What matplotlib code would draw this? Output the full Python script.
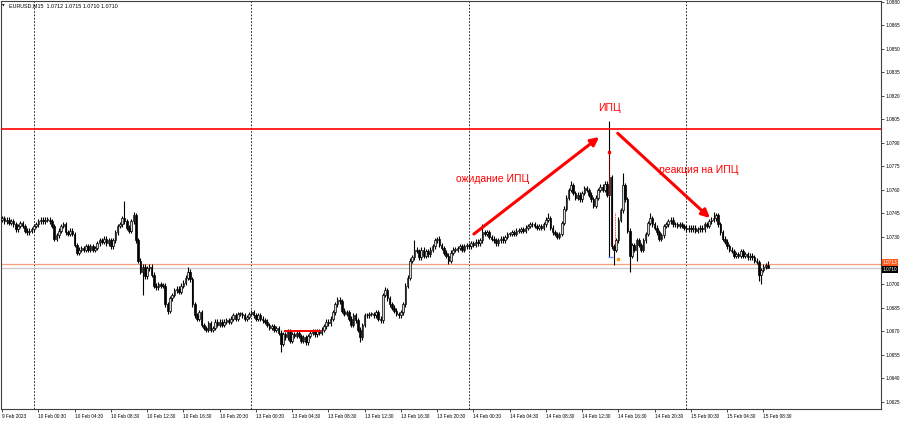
import matplotlib
matplotlib.use("Agg")
import matplotlib.pyplot as plt
import numpy as np

# EURUSD M15 closes, grouped by trading day
closes_9feb = [1.0742, 1.0740, 1.0741, 1.0739, 1.0740, 1.0738, 1.0735, 1.0737,
               1.0739, 1.0737, 1.0734, 1.0733, 1.0734, 1.0735]
closes_10feb = [1.0737, 1.0738,
                1.0740, 1.0741, 1.0740, 1.0741, 1.0741, 1.0740, 1.0737, 1.0729,
                1.0731, 1.0734, 1.0737, 1.0738, 1.0733, 1.0732, 1.0734, 1.0732,
                1.0725, 1.0720, 1.0722, 1.0723, 1.0722, 1.0724, 1.0722, 1.0724,
                1.0722, 1.0723, 1.0726, 1.0728, 1.0727, 1.0729, 1.0726, 1.0728,
                1.0724, 1.0728, 1.0733, 1.0737, 1.0738, 1.0742, 1.0740, 1.0736,
                1.0734, 1.0740, 1.0744, 1.0728, 1.0715, 1.0708, 1.0711, 1.0705,
                1.0710, 1.0711, 1.0706, 1.0699, 1.0698, 1.0700, 1.0699, 1.0699,
                1.0687, 1.0683, 1.0691, 1.0693, 1.0696, 1.0697, 1.0695, 1.0699,
                1.0701, 1.0704, 1.0708, 1.0703, 1.0687, 1.0680, 1.0678, 1.0682,
                1.0674, 1.0672, 1.0671, 1.0675, 1.0671, 1.0672, 1.0676, 1.0674,
                1.0676, 1.0674, 1.0676, 1.0677, 1.0676, 1.0678, 1.0680, 1.0678,
                1.0681, 1.0681, 1.0680, 1.0678, 1.0679, 1.0681]
closes_13feb = [1.0682, 1.0680,
                1.0678, 1.0680, 1.0678, 1.0677, 1.0676, 1.0674, 1.0672, 1.0673,
                1.0671, 1.0672, 1.0669, 1.0662, 1.0668, 1.0666, 1.0670, 1.0664,
                1.0668, 1.0667, 1.0669, 1.0667, 1.0664, 1.0666, 1.0663, 1.0667,
                1.0669, 1.0670, 1.0668, 1.0670, 1.0669, 1.0671, 1.0673, 1.0676,
                1.0675, 1.0678, 1.0682, 1.0687, 1.0690, 1.0689, 1.0683, 1.0681,
                1.0682, 1.0678, 1.0674, 1.0680, 1.0677, 1.0671, 1.0666, 1.0674,
                1.0680, 1.0680, 1.0681, 1.0681, 1.0680, 1.0682, 1.0678, 1.0677,
                1.0693, 1.0696, 1.0691, 1.0687, 1.0685, 1.0683, 1.0681, 1.0680,
                1.0682, 1.0687, 1.0699, 1.0704, 1.0715, 1.0717, 1.0722, 1.0721,
                1.0717, 1.0722, 1.0718, 1.0721, 1.0719, 1.0722, 1.0724, 1.0728,
                1.0729, 1.0725, 1.0723, 1.0720, 1.0718, 1.0715, 1.0720, 1.0722,
                1.0722, 1.0723, 1.0724, 1.0722, 1.0724, 1.0725]
closes_14feb = [1.0724, 1.0726,
                1.0725, 1.0727, 1.0726, 1.0728, 1.0733, 1.0732, 1.0733, 1.0730,
                1.0729, 1.0728, 1.0726, 1.0728, 1.0729, 1.0728, 1.0730, 1.0732,
                1.0732, 1.0733, 1.0732, 1.0734, 1.0734, 1.0735, 1.0734, 1.0736,
                1.0737, 1.0738, 1.0738, 1.0737, 1.0736, 1.0737, 1.0736, 1.0738,
                1.0741, 1.0742, 1.0736, 1.0733, 1.0732, 1.0730, 1.0732, 1.0739,
                1.0748, 1.0755, 1.0760, 1.0763, 1.0758, 1.0755, 1.0757, 1.0754,
                1.0758, 1.0761, 1.0760, 1.0757, 1.0754, 1.0750, 1.0755, 1.0760,
                1.0762, 1.0760, 1.0764, 1.0757, 1.0768, 1.0724, 1.0722, 1.0728,
                1.0741, 1.0747, 1.0763, 1.0754, 1.0734, 1.0718, 1.0725, 1.0722,
                1.0728, 1.0725, 1.0722, 1.0728, 1.0732, 1.0739, 1.0742, 1.0738,
                1.0736, 1.0733, 1.0729, 1.0731, 1.0737, 1.0738, 1.0740, 1.0741,
                1.0738, 1.0738, 1.0737, 1.0738, 1.0737, 1.0736]
closes_15feb = [1.0735, 1.0736,
                1.0735, 1.0736, 1.0734, 1.0735, 1.0736, 1.0735, 1.0738, 1.0737,
                1.0740, 1.0741, 1.0742, 1.0744, 1.0738, 1.0733, 1.0729, 1.0727,
                1.0724, 1.0722, 1.0721, 1.0718, 1.0719, 1.0718, 1.0721, 1.0718,
                1.0719, 1.0717, 1.0718, 1.0717, 1.0715, 1.0714, 1.0706, 1.0709,
                1.0711, 1.0712, 1.0710]
first_open = 1.0741

# notable wicks (bar index -> price)
spike_highs = {54: 1.0753, 58: 1.0746, 82: 1.0711, 148: 1.0692, 169: 1.0698,
               182: 1.0728, 192: 1.0730, 212: 1.0738, 241: 1.0745, 251: 1.0766,
               268: 1.0804, 274: 1.0771, 286: 1.0745, 314: 1.0746, 338: 1.0715}
spike_lows = {62: 1.0693, 73: 1.0681, 123: 1.0657, 158: 1.0663, 197: 1.0713,
              268: 1.0717, 270: 1.0712, 277: 1.0708, 280: 1.0715, 334: 1.0702,
              335: 1.0700, 338: 1.0710}
wick = 0.00015

# levels
cpi_level = 1.0799
support_level = 1.0670
support_bars = (124.5, 140.8)
ask_price = 1.0713
bid_price = 1.0710
day_starts = [14, 110, 206, 302]

time_labels = ["9 Feb 2023",
               "10 Feb 00:30", "10 Feb 04:30", "10 Feb 08:30", "10 Feb 12:30", "10 Feb 16:30", "10 Feb 20:30",
               "13 Feb 00:30", "13 Feb 04:30", "13 Feb 08:30", "13 Feb 12:30", "13 Feb 16:30", "13 Feb 20:30",
               "14 Feb 00:30", "14 Feb 04:30", "14 Feb 08:30", "14 Feb 12:30", "14 Feb 16:30", "14 Feb 20:30",
               "15 Feb 00:30", "15 Feb 04:30", "15 Feb 08:30"]
label_bars = [0] + list(range(16, 337, 16))

price_ticks = np.round(np.arange(1.0625, 1.08801, 0.0015), 4)

closes = closes_9feb + closes_10feb + closes_13feb + closes_14feb + closes_15feb
n = len(closes)
opens = [first_open] + closes[:-1]
opens[-1] = 1.0712
highs = [spike_highs.get(i, max(o, c) + wick) for i, (o, c) in enumerate(zip(opens, closes))]
lows = [spike_lows.get(i, min(o, c) - wick) for i, (o, c) in enumerate(zip(opens, closes))]

x = np.arange(n)
o = np.array(opens)
c = np.array(closes)

fig = plt.figure(figsize=(9, 4.24), dpi=100)
ax = fig.add_axes([1 / 900, 15 / 424, 880 / 900, 408 / 424])

ax.vlines(x, lows, highs, color="black", lw=0.8, zorder=3)
bull = c >= o
body_h = np.maximum(np.abs(c - o), 0.00003)
ax.bar(x[bull], body_h[bull], bottom=o[bull], width=0.7, color="#d8d8d8",
       edgecolor="black", lw=0.5, zorder=4)
ax.bar(x[~bull], body_h[~bull], bottom=c[~bull], width=0.7, color="black",
       edgecolor="black", lw=0.5, zorder=4)

for d in day_starts:
    ax.axvline(d, color="black", lw=0.6, ls=(0, (2, 2)), zorder=1)

ax.axhline(cpi_level, color="red", lw=1.2, zorder=5)
ax.axhline(ask_price, color="#f4a07c", lw=0.9, zorder=2)
ax.axhline(bid_price, color="#c8c8c8", lw=0.9, zorder=2)
ax.hlines(support_level, support_bars[0], support_bars[1], color="red", lw=1.4, zorder=5)

# trade marks on the CPI bar
ax.plot([268, 268], [1.0784, 1.0756], color="red", lw=0.6, ls=(0, (1, 1)), zorder=6)
ax.plot([270.5, 270.5], [1.0745, 1.0724], color="red", lw=0.6, ls=(0, (1, 1)), zorder=6)
ax.plot([268], [1.0784], marker="s", ms=1.5, color="red", zorder=6)
ax.hlines(1.0717, 267.5, 269.5, color="#6f8fff", lw=1.0, zorder=6)
ax.plot([272], [1.0716], marker="s", ms=1.5, color="#f0a020", zorder=6)

# annotations
arrow = dict(arrowstyle="-|>", color="red", lw=2.2, mutation_scale=12, shrinkA=0, shrinkB=0)
ax.annotate("", xy=(263.5, 1.07937), xytext=(208.2, 1.07319), arrowprops=arrow, zorder=7)
ax.annotate("", xy=(312.4, 1.07421), xytext=(271.7, 1.07961), arrowprops=arrow, zorder=7)
txt = dict(color="red", fontsize=7.5, family="Liberation Sans", ha="center", va="center")
ax.text(268, 1.08122, "ИПЦ", **txt)
ax.text(216.7, 1.0767, "ожидание ИПЦ", **txt)
ax.text(307.6, 1.07727, "реакция на ИПЦ", **txt)

ax.set_xlim(-0.5, 387.9)
ax.set_ylim(1.06204, 1.08804)

ax.yaxis.tick_right()
ax.set_yticks(price_ticks)
ax.set_yticklabels([f"{v:.4f}" if abs(v - 1.0715) > 1e-6 else "" for v in price_ticks])
ax.set_xticks(label_bars)
ax.set_xticklabels(time_labels)
for lbl in ax.get_xticklabels():
    lbl.set_horizontalalignment("left")
ax.tick_params(axis="y", labelsize=3.4, length=2.5, width=0.5, pad=1)
ax.tick_params(axis="x", labelsize=3.4, length=2.5, width=0.5, pad=1)
for lbl in ax.get_xticklabels() + ax.get_yticklabels():
    lbl.set_family("Liberation Sans")

for s in ax.spines.values():
    s.set_color("#404040")
    s.set_linewidth(0.8)

# current price boxes
for price, fc, dy in [(ask_price, "#ff5a1a", 0.00008), (bid_price, "black", -0.00008)]:
    ax.text(1.002, price + dy, f"{price:.4f}", transform=ax.get_yaxis_transform(),
            ha="left", va="center", fontsize=3.4, color="white", family="Liberation Sans",
            bbox=dict(boxstyle="square,pad=0.15", fc=fc, ec="none"), zorder=8, clip_on=False)

fig.text(2 / 900, 1 - 6 / 424, "▼", fontsize=2.5, va="center")
fig.text(9 / 900, 1 - 6 / 424, "EURUSD,M15  1.0712 1.0715 1.0710 1.0710",
         fontsize=3.9, family="Liberation Sans", va="center")

fig.savefig("out.png", dpi=100)
